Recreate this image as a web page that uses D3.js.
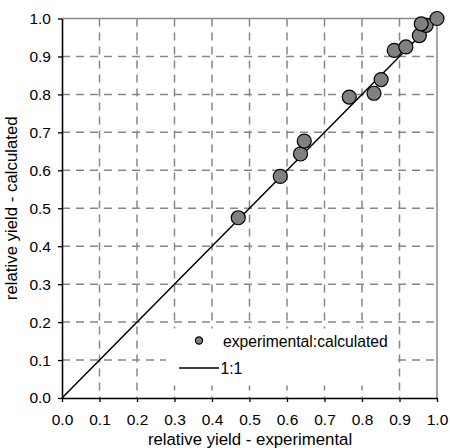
<!DOCTYPE html>
<html>
<head>
<meta charset="utf-8">
<script src="https://cdn.jsdelivr.net/npm/d3@7"></script>
<style>
  body { margin: 0; background: #fff; }
  text { font-family: Arial, "Liberation Sans", sans-serif; fill: #000; }
</style>
</head>
<body>
<div class="chart"></div>
<script>
// data
var expValues = [0.470, 0.582, 0.636, 0.646, 0.766, 0.832, 0.851, 0.886, 0.917, 0.953, 0.971, 0.958, 1.000];
var calcValues = [0.475, 0.584, 0.643, 0.677, 0.793, 0.803, 0.839, 0.916, 0.925, 0.955, 0.982, 0.986, 1.000];
var tickValues = [0, 0.1, 0.2, 0.3, 0.4, 0.5, 0.6, 0.7, 0.8, 0.9, 1.0];
var lineEnds = [0, 1];

// set the dimensions and margins of the graph
var margin = { top: 18.5, right: 13, bottom: 50, left: 62 },
    width = 450 - margin.left - margin.right,
    height = 448 - margin.top - margin.bottom;

var svg = d3.select(".chart")
    .append("svg")
    .attr("width", 450)
    .attr("height", 448)
    .append("g")
    .attr("transform", "translate(" + margin.left + "," + margin.top + ")");

var x = d3.scaleLinear().domain([0, 1]).range([0, width]);
var y = d3.scaleLinear().domain([0, 1]).range([height, 0]);

// dashed grid
var grid = svg.append("g")
    .attr("stroke", "#888")
    .attr("stroke-width", 1.5)
    .attr("stroke-dasharray", "8,6");
grid.selectAll(".vg")
    .data(tickValues.slice(1, -1))
    .enter().append("line")
    .attr("x1", function (d) { return x(d); })
    .attr("x2", function (d) { return x(d); })
    .attr("y1", 0)
    .attr("y2", height);
grid.selectAll(".hg")
    .data(tickValues.slice(1, -1))
    .enter().append("line")
    .attr("x1", 0)
    .attr("x2", width)
    .attr("y1", function (d) { return y(d); })
    .attr("y2", function (d) { return y(d); });

// top and right frame in grey
svg.append("path")
    .attr("d", "M0," + y(1) + "H" + x(1) + "V" + y(0))
    .attr("fill", "none")
    .attr("stroke", "#888")
    .attr("stroke-width", 1.5);

// white legend box
svg.append("rect")
    .attr("x", 104)
    .attr("y", 310)
    .attr("width", 232)
    .attr("height", 57)
    .attr("fill", "#fff");

// axes
var xAxis = svg.append("g")
    .attr("transform", "translate(0," + height + ")")
    .call(d3.axisBottom(x).tickValues(tickValues).tickFormat(d3.format(".1f")).tickSize(4).tickSizeOuter(0).tickPadding(12));
var yAxis = svg.append("g")
    .call(d3.axisLeft(y).tickValues(tickValues).tickFormat(d3.format(".1f")).tickSize(4).tickSizeOuter(0).tickPadding(7));
[xAxis, yAxis].forEach(function (a) {
    a.select(".domain").attr("stroke", "#000").attr("stroke-width", 1.6);
    a.selectAll(".tick line").attr("stroke", "#000").attr("stroke-width", 1.3);
    a.selectAll(".tick text").style("font-size", "15.5px").style("font-family", "Arial, 'Liberation Sans', sans-serif").attr("fill", "#000");
});

// 1:1 line
svg.append("line")
    .attr("x1", x(lineEnds[0]))
    .attr("y1", y(lineEnds[0]))
    .attr("x2", x(lineEnds[1]))
    .attr("y2", y(lineEnds[1]))
    .attr("stroke", "#000")
    .attr("stroke-width", 1.5);

// points
svg.append("g")
    .selectAll("circle")
    .data(expValues)
    .enter().append("circle")
    .attr("cx", function (d) { return x(d); })
    .attr("cy", function (d, i) { return y(calcValues[i]); })
    .attr("r", 7)
    .attr("fill", "#808080")
    .attr("stroke", "#000")
    .attr("stroke-width", 1.2);

// legend
svg.append("circle")
    .attr("cx", 137)
    .attr("cy", 322)
    .attr("r", 3.6)
    .attr("fill", "#808080")
    .attr("stroke", "#000")
    .attr("stroke-width", 1.2);
svg.append("text")
    .attr("x", 161)
    .attr("y", 328)
    .style("font-size", "15.7px")
    .text("experimental:calculated");
svg.append("line")
    .attr("x1", 117)
    .attr("x2", 157)
    .attr("y1", 349.5)
    .attr("y2", 349.5)
    .attr("stroke", "#000")
    .attr("stroke-width", 1.5);
svg.append("text")
    .attr("x", 158.5)
    .attr("y", 355)
    .style("font-size", "15.7px")
    .text("1:1");

// axis labels
svg.append("text")
    .attr("transform", "translate(" + (width / 2 + 0.5) + "," + (height + 47) + ")")
    .attr("text-anchor", "middle")
    .style("font-size", "16.8px")
    .text("relative yield - experimental");
svg.append("text")
    .attr("transform", "translate(" + (17 - margin.left) + "," + (height / 2) + ") rotate(-90)")
    .attr("text-anchor", "middle")
    .style("font-size", "16.8px")
    .text("relative yield - calculated");
</script>
</body>
</html>
